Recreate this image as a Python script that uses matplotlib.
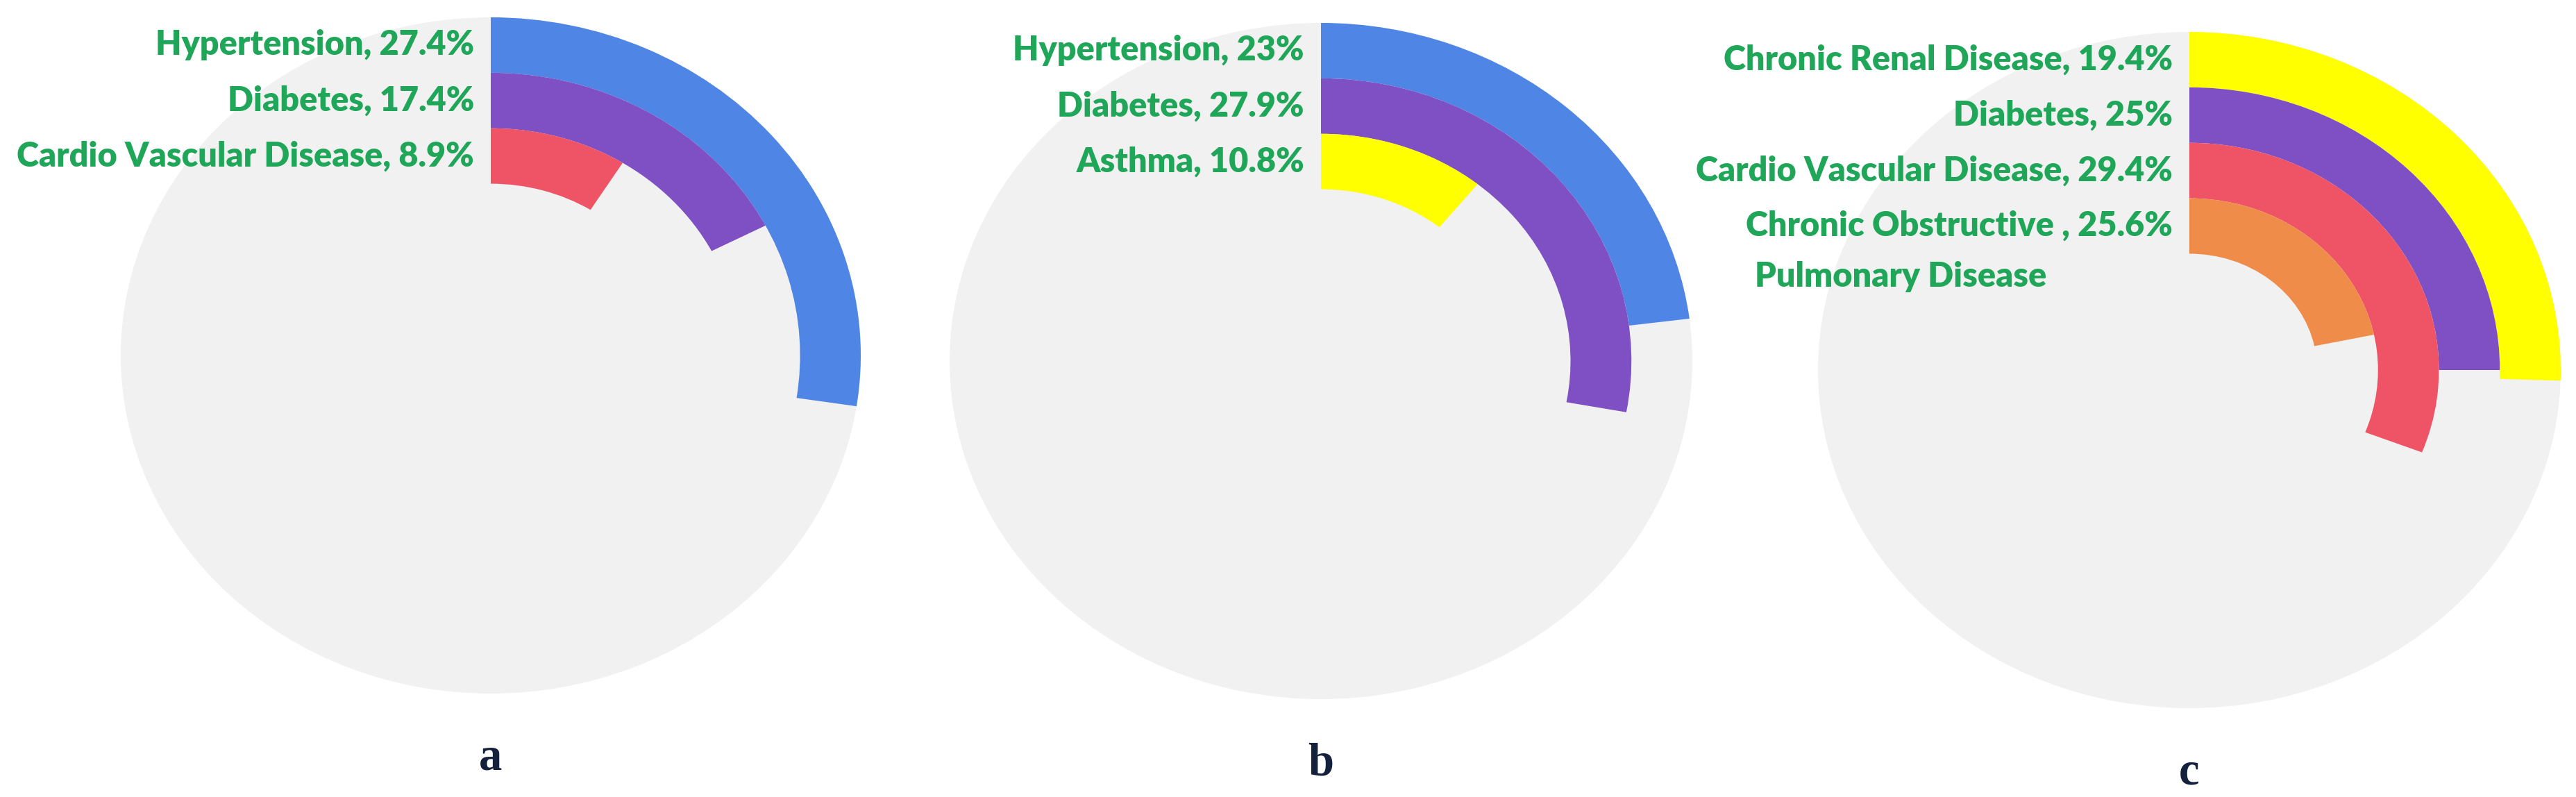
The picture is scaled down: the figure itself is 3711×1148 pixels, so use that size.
import matplotlib
matplotlib.use('Agg')
import matplotlib.pyplot as plt
from matplotlib.patches import Wedge, Circle

# panel a
labels_a = ['Hypertension', 'Diabetes', 'Cardio Vascular Disease']
pct_a = [27.4, 17.4, 8.9]
arc_a = pct_a
colors_a = ['#4f86e6', '#7f4fc4', '#ef5366']

# panel b
labels_b = ['Hypertension', 'Diabetes', 'Asthma']
pct_b = [23, 27.9, 10.8]
arc_b = pct_b
colors_b = ['#4f86e6', '#7f4fc4', '#ffff00']

# panel c (arcs as drawn in the figure, they don't follow the labels)
labels_c = ['Chronic Renal Disease', 'Diabetes', 'Cardio Vascular Disease', 'Chronic Obstructive ']
pct_c = [19.4, 25, 29.4, 25.6]
arc_c = [25.5, 25.0, 30.9, 21.7]
colors_c = ['#ffff00', '#7f4fc4', '#ef5366', '#f08c4a']

panel_letters = ['a', 'b', 'c']

W, H = 3712, 1148
fig = plt.figure(figsize=(W / 100, H / 100), dpi=100)

# centre (px), half width, half height of each panel's ellipse
boxes = [(707, 512, 533, 487), (1903, 520, 535, 487), (3154, 533, 535, 487)]

ring_w = 0.164
green = '#1fa658'
navy = '#14213d'


def radial(box, labels, pct, arcs, colors, letter):
    cx, cy, rx, ry = box
    ax = fig.add_axes([(cx - rx) / W, 1 - (cy + ry) / H, 2 * rx / W, 2 * ry / H])
    ax.set_xlim(-1, 1)
    ax.set_ylim(-1, 1)
    ax.axis('off')
    ax.add_patch(Circle((0, 0), 1, color='#f1f1f1', lw=0))
    for i in range(len(labels)):
        r = 1 - i * ring_w
        ax.add_patch(Wedge((0, 0), r, 90 - arcs[i] * 3.6, 90, width=ring_w,
                           color=colors[i], lw=0))
        ax.text(-0.045, r - ring_w / 2, f'{labels[i]}, {pct[i]:g}%', ha='right', va='center',
                fontsize=35, fontweight='heavy', color=green, family='Lato', clip_on=False)
    ax.text(0, -1.19, letter, ha='center', va='center', fontsize=48, fontweight='bold',
            color=navy, family='Liberation Serif', clip_on=False)
    return ax


radial(boxes[0], labels_a, pct_a, arc_a, colors_a, panel_letters[0])
radial(boxes[1], labels_b, pct_b, arc_b, colors_b, panel_letters[1])
ax_c = radial(boxes[2], labels_c, pct_c, arc_c, colors_c, panel_letters[2])
# second line of the last label
ax_c.text(-1.17, 1 - 3 * ring_w - ring_w / 2 - 0.15, 'Pulmonary Disease', ha='left', va='center',
          fontsize=35, fontweight='heavy', color=green, family='Lato', clip_on=False)

fig.savefig('out.png', dpi=100, facecolor='white')
